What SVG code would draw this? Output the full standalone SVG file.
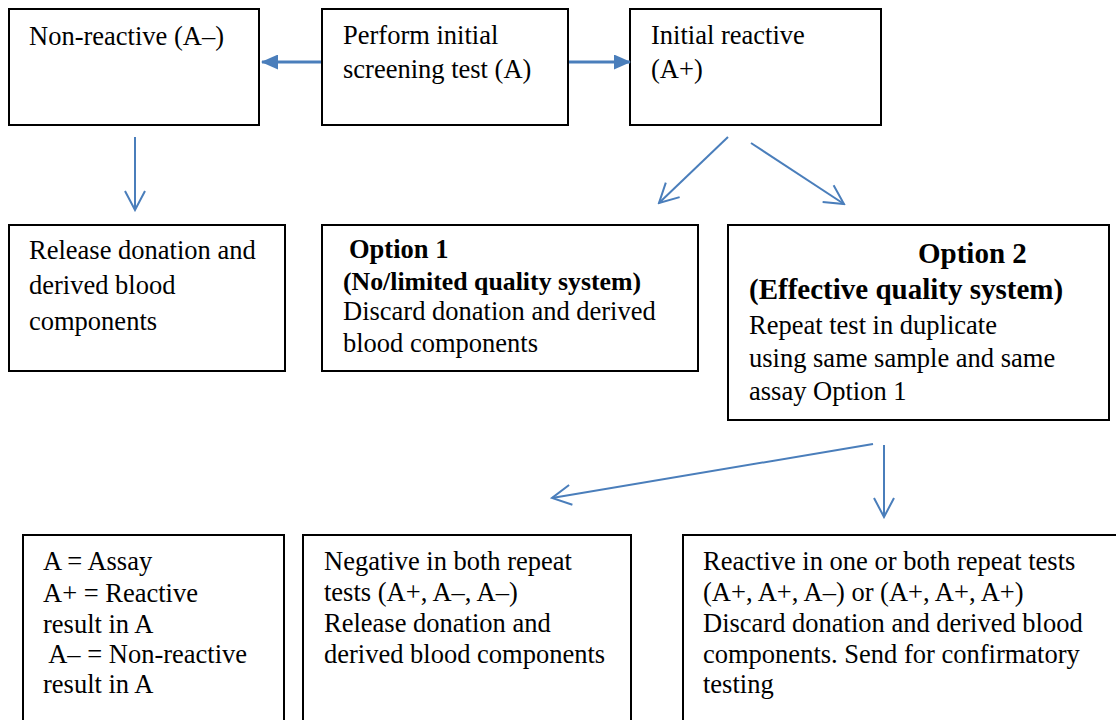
<svg xmlns="http://www.w3.org/2000/svg" width="1116" height="720" viewBox="0 0 1116 720">
<style>
.box{fill:#fff;stroke:#000;stroke-width:2}
.t{font-family:"Liberation Serif","Times New Roman",serif;font-size:26.5px;fill:#000}
.b{font-weight:bold}
.big{font-size:29px}
.c{stroke:#4a7ebb;stroke-width:2;fill:none}
.ch{stroke:#4a7ebb;stroke-width:3;fill:none}
</style>
<defs>
<marker id="tri" markerWidth="17" markerHeight="15" refX="16" refY="7.5" orient="auto" markerUnits="userSpaceOnUse" viewBox="0 0 17 15">
<path d="M0,0 L17,7.5 L0,15 z" fill="#4a7ebb"/>
</marker>
<marker id="vee" markerWidth="24" markerHeight="24" refX="22" refY="12" orient="auto" markerUnits="userSpaceOnUse" viewBox="0 0 24 24">
<path d="M3,2 L22,12 L3,22" fill="none" stroke="#4a7ebb" stroke-width="2"/>
</marker>
</defs>
<rect width="1116" height="720" fill="#fff"/>
<g id="n1"><rect class="box" x="9" y="9" width="250" height="116"/>
<text class="t" x="29" y="45">Non-reactive (A–)</text></g>
<g id="n2"><rect class="box" x="322" y="9" width="246" height="116"/>
<text class="t" x="343" y="44">Perform initial</text>
<text class="t" x="343" y="78">screening test (A)</text></g>
<g id="n3"><rect class="box" x="630" y="9" width="251" height="116"/>
<text class="t" x="651" y="44">Initial reactive</text>
<text class="t" x="651" y="78">(A+)</text></g>
<g id="n4"><rect class="box" x="9" y="225" width="276" height="146"/>
<text class="t" x="29" y="259">Release donation and</text>
<text class="t" x="29" y="294">derived blood</text>
<text class="t" x="29" y="330">components</text></g>
<g id="n5"><rect class="box" x="322" y="225" width="376" height="146"/>
<text class="t b" x="349" y="258">Option 1</text>
<text class="t b" x="343" y="290" style="font-size:25.8px">(No/limited quality system)</text>
<text class="t" x="343" y="320">Discard donation and derived</text>
<text class="t" x="343" y="352">blood components</text></g>
<g id="n6"><rect class="box" x="728" y="225" width="381" height="195"/>
<text class="t b big" x="918" y="263">Option 2</text>
<text class="t b big" x="749" y="299">(Effective quality system)</text>
<text class="t" x="749" y="334">Repeat test in duplicate</text>
<text class="t" x="749" y="367">using same sample and same</text>
<text class="t" x="749" y="400">assay Option 1</text></g>
<g id="n7"><rect class="box" x="23" y="535" width="261" height="200"/>
<text class="t" x="43" y="570">A = Assay</text>
<text class="t" x="43" y="602">A+ = Reactive</text>
<text class="t" x="43" y="633">result in A</text>
<text class="t" x="43" y="663" xml:space="preserve"> A– = Non-reactive</text>
<text class="t" x="43" y="693">result in A</text></g>
<g id="n8"><rect class="box" x="303" y="535" width="328" height="200"/>
<text class="t" x="324" y="570">Negative in both repeat</text>
<text class="t" x="324" y="601">tests (A+, A–, A–)</text>
<text class="t" x="324" y="632">Release donation and</text>
<text class="t" x="324" y="663">derived blood components</text></g>
<g id="n9"><rect class="box" x="683" y="535" width="450" height="200"/>
<text class="t" x="703" y="570">Reactive in one or both repeat tests</text>
<text class="t" x="703" y="601">(A+, A+, A–) or (A+, A+, A+)</text>
<text class="t" x="703" y="632">Discard donation and derived blood</text>
<text class="t" x="703" y="663">components. Send for confirmatory</text>
<text class="t" x="703" y="693">testing</text></g>
<g id="connectors">
<line class="ch" x1="321" y1="62" x2="262" y2="62" marker-end="url(#tri)"/>
<line class="ch" x1="569" y1="62" x2="630" y2="62" marker-end="url(#tri)"/>
<line class="c" x1="135" y1="137" x2="135" y2="210" marker-end="url(#vee)"/>
<line class="c" x1="728" y1="137" x2="659" y2="203" marker-end="url(#vee)"/>
<line class="c" x1="751" y1="143" x2="844" y2="204" marker-end="url(#vee)"/>
<line class="c" x1="873" y1="444" x2="552" y2="498" marker-end="url(#vee)"/>
<line class="c" x1="884" y1="445" x2="884" y2="517" marker-end="url(#vee)"/>
</g>
</svg>
